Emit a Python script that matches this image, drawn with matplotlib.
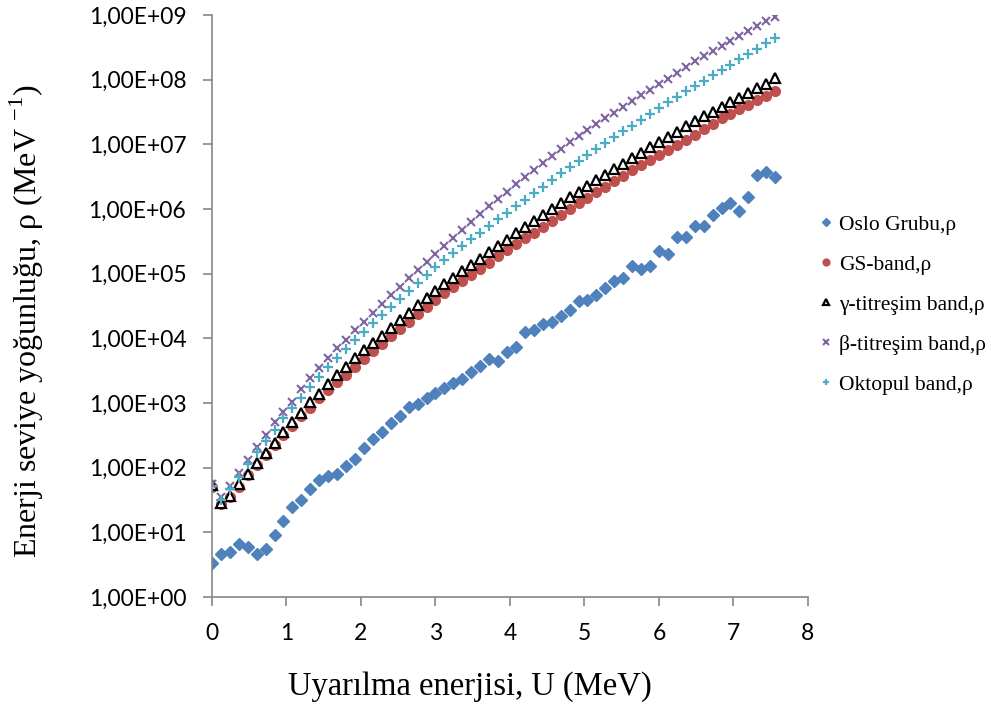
import matplotlib
matplotlib.use('Agg')
import matplotlib.pyplot as plt

plt.rcParams['mathtext.fontset'] = 'custom'
plt.rcParams['mathtext.rm'] = 'Liberation Serif'

# uyarilma enerjisi (MeV)
U = [0.00, 0.12, 0.24, 0.36, 0.48, 0.60, 0.72, 0.84, 0.96, 1.08,
     1.20, 1.32, 1.44, 1.56, 1.68, 1.80, 1.92, 2.04, 2.16, 2.28,
     2.40, 2.52, 2.64, 2.76, 2.88, 3.00, 3.12, 3.24, 3.36, 3.48,
     3.60, 3.72, 3.84, 3.96, 4.08, 4.20, 4.32, 4.44, 4.56, 4.68,
     4.80, 4.92, 5.04, 5.16, 5.28, 5.40, 5.52, 5.64, 5.76, 5.88,
     6.00, 6.12, 6.24, 6.36, 6.48, 6.60, 6.72, 6.84, 6.96, 7.08,
     7.20, 7.32, 7.44, 7.56]

oslo = [3.4, 4.6, 4.9, 6.6, 6.0, 4.6, 5.5, 9.1, 14.9, 24.5,
        31.9, 47, 65.6, 73.9, 78.5, 107, 137, 200, 279, 358,
        494, 632, 863, 980, 1190, 1440, 1720, 2010, 2340, 3040,
        3690, 4830, 4450, 6140, 7260, 12650, 13400, 16500, 18100, 21900,
        27700, 37800, 39600, 47300, 59400, 77100, 86700, 131600, 117000, 133000,
        224000, 202000, 374000, 374000, 547000, 547000, 819000, 1.04e6, 1.23e6, 935000,
        1.55e6, 3.4e6, 3.78e6, 3.17e6]

gs_band = [50, 27, 35, 51, 76, 110, 158, 224, 316, 447,
           631, 851, 1175, 1585, 2089, 2754, 3597, 4831, 6353, 8241,
           10715, 13932, 18072, 23442, 30549, 39174, 49774, 63096, 77625, 95499,
           1.17e5, 1.466e5, 1.858e5, 2.301e5, 2.851e5, 3.532e5, 4.315e5, 5.284e5, 6.546e5, 8.11e5,
           1.0e6, 1.23e6, 1.486e6, 1.82e6, 2.223e6, 2.692e6, 3.289e6, 3.981e6, 4.764e6, 5.689e6,
           6.808e6, 8.128e6, 9.817e6, 1.175e7, 1.413e7, 1.698e7, 2.089e7, 2.547e7, 3.0e7, 3.508e7,
           4.13e7, 4.842e7, 5.649e7, 6.668e7]

gamma_band = [54, 28.5, 37, 55, 80, 117, 167, 242, 351, 501,
              698, 1021, 1387, 1982, 2692, 3597, 4898, 6516, 8551, 10965,
              14289, 19011, 24889, 32359, 41591, 53951, 68549, 86696, 1.102e5, 1.38e5,
              1.706e5, 2.168e5, 2.685e5, 3.327e5, 4.217e5, 5.224e5, 6.471e5, 8.017e5, 1.0e6, 1.259e6,
              1.549e6, 1.862e6, 2.275e6, 2.793e6, 3.373e6, 4.13e6, 4.989e6, 6.109e6, 7.379e6, 9.057e6,
              1.094e7, 1.306e7, 1.563e7, 1.914e7, 2.291e7, 2.761e7, 3.221e7, 3.802e7, 4.498e7, 5.248e7,
              6.194e7, 7.311e7, 8.71e7, 1.047e8]

beta_band = [55, 35.5, 52.5, 84.1, 132, 207, 324, 501, 724, 1047,
             1622, 2399, 3436, 5012, 7000, 9506, 13300, 18070, 24890, 34360,
             46770, 62950, 85110, 1.13e5, 1.535e5, 1.995e5, 2.692e5, 3.589e5, 4.786e5, 6.31e5,
             8.318e5, 1.096e6, 1.429e6, 1.862e6, 2.399e6, 3.09e6, 3.981e6, 5.129e6, 6.607e6, 8.414e6,
             1.072e7, 1.334e7, 1.66e7, 2.042e7, 2.512e7, 3.09e7, 3.802e7, 4.677e7, 5.754e7, 7.0e7,
             8.511e7, 1.035e8, 1.259e8, 1.549e8, 1.914e8, 2.344e8, 2.799e8, 3.35e8, 3.981e8, 4.732e8,
             5.649e8, 6.761e8, 7.943e8, 9.441e8]

oktopul_band = [51.8, 32.2, 47.6, 72.1, 112, 172, 257, 385, 578, 834,
                1202, 1762, 2512, 3597, 5012, 6761, 9311, 12650, 17260, 22960,
                30830, 40550, 53950, 70960, 94410, 1.271e5, 1.652e5, 2.113e5, 2.685e5, 3.412e5,
                4.315e5, 5.47e5, 6.95e5, 8.71e5, 1.104e6, 1.384e6, 1.758e6, 2.198e6, 2.786e6, 3.548e6,
                4.519e6, 5.623e6, 6.918e6, 8.511e6, 1.047e7, 1.288e7, 1.585e7, 1.95e7, 2.399e7, 2.951e7,
                3.631e7, 4.467e7, 5.495e7, 6.761e7, 7.943e7, 9.616e7, 1.161e8, 1.409e8, 1.698e8, 2.056e8,
                2.489e8, 3.006e8, 3.631e8, 4.406e8]

y_ticks = [1e0, 1e1, 1e2, 1e3, 1e4, 1e5, 1e6, 1e7, 1e8, 1e9]
y_labels = ['1,00E+00', '1,00E+01', '1,00E+02', '1,00E+03', '1,00E+04',
            '1,00E+05', '1,00E+06', '1,00E+07', '1,00E+08', '1,00E+09']
x_ticks = [0, 1, 2, 3, 4, 5, 6, 7, 8]

fig = plt.figure(figsize=(9.91, 7.12), dpi=100)
ax = fig.add_axes([0.2139, 0.1615, 0.6014, 0.8174])

ax.plot(U, oslo, linestyle='none', marker='D', ms=6.2, color='#4F81BD',
        mec='#4F81BD', label='Oslo Grubu,ρ')
ax.plot(U, gs_band, linestyle='none', marker='o', ms=7, color='#C0504D',
        mec='#C0504D', label='GS-band,ρ')
ax.plot(U, gamma_band, linestyle='none', marker='^', ms=6.5, mfc='white',
        mec='black', mew=1.6, label='γ-titreşim band,ρ')
ax.plot(U, beta_band, linestyle='none', marker='x', ms=6, color='#8064A2',
        mew=1.5, label='β-titreşim band,ρ')
ax.plot(U, oktopul_band, linestyle='none', marker='+', ms=7, color='#4BACC6',
        mew=1.6, label='Oktopul band,ρ')

ax.set_yscale('log')
ax.set_xlim(0, 8)
ax.set_ylim(1, 1e9)
ax.set_yticks(y_ticks)
ax.set_yticklabels(y_labels)
ax.minorticks_off()
ax.set_xticks(x_ticks)
ax.set_xticklabels([str(t) for t in x_ticks])

for s in ['top', 'right']:
    ax.spines[s].set_visible(False)
for s in ['left', 'bottom']:
    ax.spines[s].set_color('#868686')
    ax.spines[s].set_linewidth(1.2)
ax.tick_params(axis='both', direction='out', length=6.5, width=1.2, color='#868686',
               labelsize=16.5, pad=12)
for lab in ax.get_xticklabels() + ax.get_yticklabels():
    lab.set_family('Lato')
    lab.set_color('#000000')

ax.set_xlabel('Uyarılma enerjisi, U (MeV)', family='Liberation Serif', fontsize=23.5)
ax.xaxis.set_label_coords(0.433, -0.128)
ax.set_ylabel(r'Enerji seviye yoğunluğu, ρ (MeV $^{-1}$)', family='Liberation Serif',
              fontsize=23)
ax.yaxis.set_label_coords(-0.278, 0.474)

leg = fig.legend(loc='center left', bbox_to_anchor=(0.803, 0.572), frameon=False,
                 prop={'family': 'Liberation Serif', 'size': 15.5},
                 handletextpad=0.1, handlelength=1.0, labelspacing=0.92,
                 markerscale=0.7)

fig.savefig('out.png', dpi=100)
